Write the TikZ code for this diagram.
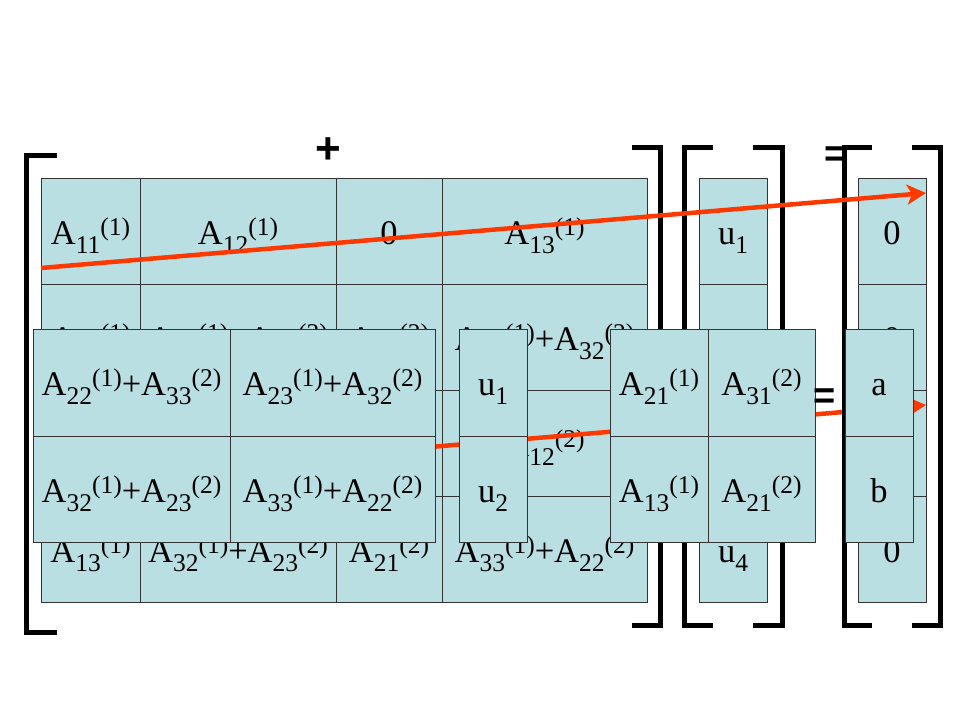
\documentclass[tikz,border=0pt]{standalone}
\usepackage{fontspec}
\setmainfont{Liberation Serif}
\newfontfamily\signfont{Liberation Sans}
\usetikzlibrary{arrows.meta}
\definecolor{cellblue}{RGB}{186,223,227}
\definecolor{arrowred}{RGB}{255,56,0}
\newcommand\sbx[1]{\raisebox{-9bp}{\fontsize{25.5bp}{25bp}\selectfont #1}}
\newcommand\spx[1]{\raisebox{9bp}{\fontsize{25.5bp}{25bp}\selectfont (#1)}}
\newcommand\Am[2]{A\sbx{#1}\spx{#2}}
\begin{document}
\begin{tikzpicture}[x=1bp,y=-1bp,
  font=\fontsize{34.5bp}{40bp}\selectfont,
  cellbox/.style={draw=black!80, line width=0.9bp, fill=cellblue, inner sep=0pt, outer sep=0pt,
    text height=30bp, text depth=4bp, minimum height=106bp},
  bracketline/.style={draw=black, line width=5bp},
  redarrow/.style={draw=arrowred, line width=4.5bp, -{Stealth[length=19bp,width=20bp,inset=5bp]}},
  sign/.style={inner sep=0pt, anchor=base, font=\signfont\bfseries\fontsize{38bp}{44bp}\selectfont},
  bigsign/.style={inner sep=0pt, anchor=base, font=\signfont\bfseries\fontsize{44bp}{48bp}\selectfont}]
\useasboundingbox[fill=white] (0,0) rectangle (960,720);

% ---- background 4x4 matrix ----
\node[cellbox, minimum width=99bp]  (b11) at (90.5,231) {\Am{11}{1}};
\node[cellbox, minimum width=196bp] (b12) at (238,231)  {\Am{12}{1}};
\node[cellbox, minimum width=106bp] (b13) at (389,231)  {0};
\node[cellbox, minimum width=205bp] (b14) at (544.5,231) {\Am{13}{1}};
\node[cellbox, minimum width=99bp]  (b21) at (90.5,337) {\Am{21}{1}};
\node[cellbox, minimum width=196bp] (b22) at (238,337)  {\Am{22}{1}+\Am{33}{2}};
\node[cellbox, minimum width=106bp] (b23) at (389,337)  {\Am{31}{2}};
\node[cellbox, minimum width=205bp] (b24) at (544.5,337) {\Am{23}{1}+\Am{32}{2}};
\node[cellbox, minimum width=99bp]  (b31) at (90.5,443) {};
\node[cellbox, minimum width=196bp] (b32) at (238,443)  {};
\node[cellbox, minimum width=106bp] (b33) at (389,443)  {};
\node[cellbox, minimum width=205bp] (b34) at (544.5,443) {\Am{12}{2}};
\node[cellbox, minimum width=99bp]  (b41) at (90.5,549) {\Am{13}{1}};
\node[cellbox, minimum width=196bp] (b42) at (238,549)  {\Am{32}{1}+\Am{23}{2}};
\node[cellbox, minimum width=106bp] (b43) at (389,549)  {\Am{21}{2}};
\node[cellbox, minimum width=205bp] (b44) at (544.5,549) {\Am{33}{1}+\Am{22}{2}};

% ---- background vector u ----
\node[cellbox, minimum width=68bp] (ub1) at (733,231) {u\sbx{1}};
\node[cellbox, minimum width=68bp] (ub2) at (733,337) {};
\node[cellbox, minimum width=68bp] (ub3) at (733,443) {};
\node[cellbox, minimum width=68bp] (ub4) at (733,549) {u\sbx{4}};

% ---- background right-hand side ----
\node[cellbox, minimum width=68bp] (rb1) at (892,231) {0};
\node[cellbox, minimum width=68bp] (rb2) at (892,337) {0};
\node[cellbox, minimum width=68bp] (rb3) at (892,443) {};
\node[cellbox, minimum width=68bp] (rb4) at (892,549) {0};

% ---- signs ----
\node[bigsign] (plus) at (328,164) {+};
\node[sign] (eqtop) at (836,167) {=};

% ---- second red arrow (under the brackets) ----
\coordinate (a2s) at (41,480);
\coordinate (a2e) at (926,405);
\draw[redarrow] (a2s) -- (a2e);

% ---- brackets ----
\draw[bracketline] (57,156) -- (26,156) -- (26,632) -- (57,632);
\draw[bracketline] (632,148) -- (660.5,148) -- (660.5,625) -- (632,625);
\draw[bracketline] (713,148) -- (684.5,148) -- (684.5,625) -- (713,625);
\draw[bracketline] (753,148) -- (782.5,148) -- (782.5,625) -- (753,625);
\draw[bracketline] (872,148) -- (844.5,148) -- (844.5,625) -- (872,625);
\draw[bracketline] (912,148) -- (940.5,148) -- (940.5,625) -- (912,625);

% ---- first red arrow ----
\coordinate (a1s) at (41,268);
\coordinate (a1e) at (926,193);
\draw[redarrow] (a1s) -- (a1e);

% ---- front 2x2 matrix ----
\node[cellbox, minimum width=197bp, minimum height=107bp] (f11) at (131.5,382.5) {\Am{22}{1}+\Am{33}{2}};
\node[cellbox, minimum width=205bp, minimum height=107bp] (f12) at (332.5,382.5) {\Am{23}{1}+\Am{32}{2}};
\node[cellbox, minimum width=197bp] (f21) at (131.5,489) {\Am{32}{1}+\Am{23}{2}};
\node[cellbox, minimum width=205bp] (f22) at (332.5,489) {\Am{33}{1}+\Am{22}{2}};

% ---- front vector u ----
\node[cellbox, minimum width=68bp, minimum height=107bp] (uf1) at (493,382.5) {u\sbx{1}};
\node[cellbox, minimum width=68bp] (uf2) at (493,489) {u\sbx{2}};

% ---- front small matrix ----
\node[cellbox, minimum width=98bp, minimum height=107bp]  (s11) at (659,382.5) {\Am{21}{1}};
\node[cellbox, minimum width=107bp, minimum height=107bp] (s12) at (761.5,382.5) {\Am{31}{2}};
\node[cellbox, minimum width=98bp]  (s21) at (659,489) {\Am{13}{1}};
\node[cellbox, minimum width=107bp] (s22) at (761.5,489) {\Am{21}{2}};

\node[sign] (eqfront) at (825,408) {=};

% ---- front right-hand side ----
\node[cellbox, minimum width=68bp, minimum height=107bp] (rf1) at (879,382.5) {a};
\node[cellbox, minimum width=68bp] (rf2) at (879,489) {b};
\end{tikzpicture}
\end{document}
